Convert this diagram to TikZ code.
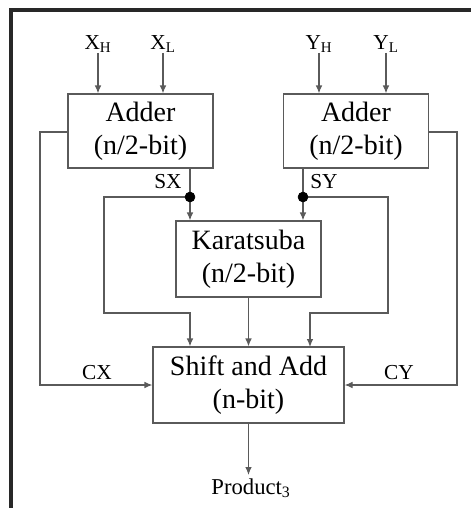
\documentclass[tikz,border=0pt]{standalone}
\usepackage{fontspec}
\setmainfont{Liberation Serif}
\usepackage{tikz}
\usetikzlibrary{arrows.meta,calc,positioning,backgrounds}
\pgfdeclarelayer{edgelayer}
\pgfdeclarelayer{nodelayer}
\pgfsetlayers{background,edgelayer,nodelayer,main}
\definecolor{wire}{RGB}{90,90,90}
\definecolor{frame}{RGB}{40,40,40}
\tikzstyle{none}=[inner sep=0mm]
\tikzstyle{block}=[draw=wire,line width=0.9pt,fill=white,shape=rectangle,align=center,font=\fontsize{21}{25}\selectfont,inner sep=0pt]
\tikzstyle{lbl}=[inner sep=0pt,font=\fontsize{16}{18}\selectfont]
\tikzstyle{tap}=[inner sep=0pt,minimum size=7.5pt,fill=black,draw=black,shape=circle]
\tikzstyle{wireline}=[draw=wire,line width=0.9pt]
\tikzstyle{diredge}=[wireline,-{Latex[length=6pt,width=5pt]}]

\begin{document}
\begin{tikzpicture}[x=0.75pt,y=-0.75pt]
	\useasboundingbox (0,0) rectangle (471,508);
	\draw [draw=frame,line width=2.4pt] (11,508) -- (11,10) -- (471,10);
	\begin{pgfonlayer}{nodelayer}
		\node [style=lbl] (xh) at (98,44) {X\textsubscript{H}};
		\node [style=lbl] (xl) at (163,44) {X\textsubscript{L}};
		\node [style=lbl] (yh) at (319,44) {Y\textsubscript{H}};
		\node [style=lbl] (yl) at (386,44) {Y\textsubscript{L}};
		\node [style=block,minimum width=108.75pt,minimum height=55.5pt] (addx) at (140.5,131) {Adder\\(n/2-bit)};
		\node [style=block,minimum width=108.75pt,minimum height=55.5pt] (addy) at (356,131) {Adder\\(n/2-bit)};
		\node [style=block,minimum width=108.75pt,minimum height=57pt] (kara) at (248.5,259) {Karatsuba\\(n/2-bit)};
		\node [style=block,minimum width=143.25pt,minimum height=57pt] (shift) at (248.5,385) {Shift and Add\\(n-bit)};
		\node [style=tap] (sxd) at (190,197) {};
		\node [style=tap] (syd) at (303,197) {};
		\node [style=lbl] (sx) at (168,182) {SX};
		\node [style=lbl] (sy) at (324,182) {SY};
		\node [style=lbl] (cx) at (97,373) {CX};
		\node [style=lbl] (cy) at (399,373) {CY};
		\node [style=lbl,font=\fontsize{17}{19}\selectfont] (prod) at (251,488) {Product\textsubscript{3}};
		\coordinate (cxa) at (68,132);
		\coordinate (cya) at (429,132);
		\coordinate (cxc) at (40,385);
		\coordinate (cyc) at (457,385);
		\coordinate (sxc) at (104,313);
		\coordinate (syc) at (388,313);
		\coordinate (syin) at (310,347);
		\coordinate (prin) at (248.5,475);
	\end{pgfonlayer}
	\begin{pgfonlayer}{edgelayer}
		\draw [style=diredge] (xh.south) to (xh |- addx.north);
		\draw [style=diredge] (xl.south) to (xl |- addx.north);
		\draw [style=diredge] (yh.south) to (yh |- addy.north);
		\draw [style=diredge] (yl.south) to (yl |- addy.north);
		\draw [style=wireline] (addx.south -| sxd) to (sxd.center);
		\draw [style=wireline] (addy.south -| syd) to (syd.center);
		\draw [style=diredge] (sxd.center) to (kara.north -| sxd);
		\draw [style=diredge] (syd.center) to (kara.north -| syd);
		\draw [style=diredge] (sxd.center) -| (sxc) -| (shift.north -| sxd);
		\draw [style=diredge] (syd.center) -| (syc) -| (syin);
		\draw [style=diredge] (kara.south) to (shift.north);
		\draw [style=diredge] (cxa) -| (cxc) to (shift.west);
		\draw [style=diredge] (cya) -| (cyc) to (shift.east);
		\draw [style=diredge] (shift.south) to (prin);
	\end{pgfonlayer}
\end{tikzpicture}
\end{document}
